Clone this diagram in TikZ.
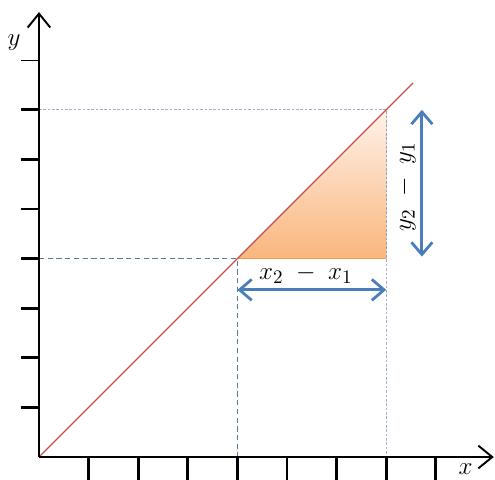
\documentclass[tikz,border=0pt]{standalone}
\usetikzlibrary{arrows.meta, positioning, calc}
\definecolor{cred}{HTML}{C0504D}
\definecolor{cblue}{HTML}{4A7EBB}
\definecolor{cdash}{HTML}{5A77A8}
\definecolor{clight}{HTML}{9FB3D1}
\definecolor{corange}{HTML}{F79646}
\tikzset{
  every picture/.style={line width=1.1pt},
  axis/.style={-{Straight Barb[length=8pt, width=13pt, line width=1.1pt]}, draw=black},
  tick/.style={draw=black, line width=1.6pt},
  guide/.style={draw=cdash, dashed, dash pattern=on 3pt off 2pt, line width=0.6pt},
  faint/.style={draw=clight, dash pattern=on 1.5pt off 1pt, line width=0.5pt},
  span/.style={{Straight Barb[length=7pt, width=12pt, line width=1.6pt]}-{Straight Barb[length=7pt, width=12pt, line width=1.6pt]}, draw=cblue, line width=1.6pt},
  lbl/.style={font=\fontsize{15}{17}\selectfont, inner sep=1pt},
}
\begin{document}
\begin{tikzpicture}
  \useasboundingbox (-0.786,-0.444) rectangle (9.194,9.214);
  \clip (-0.786,-0.444) rectangle (9.194,9.214);
  \coordinate (O) at (0,0);
  \coordinate (p1) at (4,4);
  \coordinate (p2) at (7,7);
  \coordinate (c) at (7,4);
  \coordinate (xend) at (9.17,0);
  \coordinate (yend) at (0,8.97);
  % guide lines
  \draw[faint] (0,7) -- (p2) -- (7,0);
  \draw[guide] (0,4) -- (p1) -- (4,0);
  % triangle
  \fill[top color=corange!12, bottom color=corange!70!white] (p1) -- (p2) -- (c) -- cycle;
  \draw[draw=corange, line width=0.8pt] (p1) -- (c);
  \draw[draw=cred, line width=0.8pt] (O) -- (7.54,7.54);
  % axes
  \draw[axis] (O) -- (xend);
  \draw[axis] (O) -- (yend);
  \foreach \i in {1,...,8} \draw[tick] (\i,0) -- (\i,-0.5);
  \foreach \i in {1,...,7} \draw[tick] (-0.36,\i) -- (0,\i);
  \draw[line width=0.5pt] (-0.36,8) -- (0,8);
  \node[lbl] (ylab) at (-0.5,8.35) {$y$};
  \node[lbl] (xlab) at (8.6,-0.24) {$x$};
  % spans
  \coordinate (h1) at (4,3.37);
  \coordinate (h2) at (7,3.37);
  \draw[span] (h1) -- (h2);
  \node[lbl] (dx) at (5.38,3.69) {$x_2 \;-\; x_1$};
  \coordinate (v1) at (7.72,4.04);
  \coordinate (v2) at (7.72,7.0);
  \draw[span] (v1) -- (v2);
  \node[lbl, rotate=90] (dy) at (7.4,5.44) {$y_2 \;-\; y_1$};
\end{tikzpicture}
\end{document}
